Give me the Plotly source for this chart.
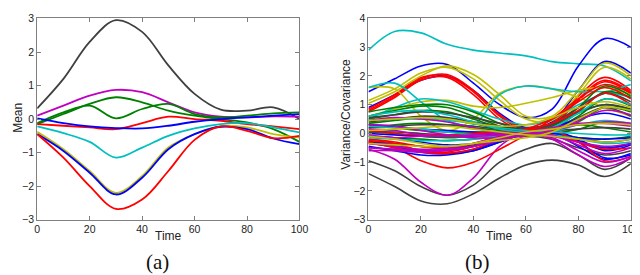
import plotly.graph_objects as go

time = [0, 10, 20, 30, 40, 50, 60, 70, 80, 90, 100]

# ---- panel (a): means ----
mean_series = [
    ("k", [0.32, 1.2, 2.3, 2.95, 2.6, 1.6, 0.75, 0.28, 0.25, 0.35, 0.0]),
    ("m", [0.1, 0.4, 0.7, 0.87, 0.8, 0.5, 0.2, 0.07, 0.05, 0.08, 0.07]),
    ("g", [-0.15, 0.15, 0.45, 0.65, 0.5, 0.25, 0.1, 0.0, -0.1, -0.3, -0.68]),
    ("g", [-0.12, 0.2, 0.4, 0.02, 0.3, 0.45, 0.15, 0.05, 0.1, 0.17, 0.2]),
    ("r", [-0.15, -0.2, -0.25, -0.3, -0.12, 0.07, 0.0, -0.05, -0.15, -0.22, -0.3]),
    ("b", [0.02, -0.12, -0.22, -0.27, -0.28, -0.2, -0.08, 0.0, 0.05, 0.1, 0.15]),
    ("c", [-0.22, -0.42, -0.68, -1.15, -0.85, -0.5, -0.28, -0.15, -0.12, -0.25, -0.4]),
    ("y", [-0.38, -0.9, -1.55, -2.2, -1.7, -0.85, -0.45, -0.22, -0.25, -0.45, -0.55]),
    ("b", [-0.45, -0.95, -1.6, -2.25, -1.75, -0.9, -0.45, -0.23, -0.3, -0.58, -0.75]),
    ("r", [-0.45, -1.15, -2.0, -2.68, -2.4, -1.55, -0.62, -0.22, -0.35, -0.57, -0.5]),
]

# ---- panel (b): variances / covariances ----
cov_series = [
    ("c", [2.9, 3.55, 3.5, 3.1, 2.9, 2.8, 2.7, 2.5, 2.42, 2.35, 1.83]),
    ("b", [1.45, 1.9, 2.35, 2.4, 1.75, 1.0, 0.55, 0.85, 2.35, 3.3, 3.0]),
    ("b", [0.9, 1.35, 1.85, 2.0, 1.5, 0.7, 0.2, 0.4, 1.5, 2.5, 2.1]),
    ("r", [0.85, 1.35, 1.95, 2.0, 1.45, 0.6, 0.1, 0.35, 1.3, 1.95, 1.5]),
    ("r", [0.75, 1.25, 1.85, 1.95, 1.35, 0.5, 0.05, 0.25, 1.15, 1.8, 1.4]),
    ("r", [0.8, 1.3, 1.9, 2.05, 1.5, 0.65, 0.15, 0.3, 1.2, 1.85, 1.45]),
    ("y", [1.05, 1.45, 2.0, 2.35, 2.05, 1.35, 0.6, 0.6, 1.5, 2.45, 2.0]),
    ("y", [1.15, 1.55, 2.1, 2.3, 1.9, 1.15, 0.5, 0.45, 1.35, 2.3, 1.9]),
    ("y", [1.6, 1.55, 0.6, 0.1, 0.5, 1.4, 1.65, 1.55, 1.25, 0.9, 0.6]),
    ("y", [0.6, 0.85, 1.1, 1.15, 0.95, 0.9, 1.05, 1.25, 1.5, 1.6, 1.35]),
    ("c", [1.6, 1.75, 1.1, 0.45, 0.3, 1.35, 1.65, 1.55, 1.45, 1.45, 1.25]),
    ("c", [0.5, 0.9, 1.2, 1.1, 0.8, 0.5, 0.3, 0.5, 1.0, 1.4, 1.7]),
    ("k", [-1.4, -1.85, -2.35, -2.45, -2.1, -1.55, -1.1, -0.93, -1.1, -1.5, -1.05]),
    ("k", [-0.95, -1.3, -1.85, -2.15, -1.8, -1.0, -0.55, -0.35, -0.75, -1.25, -0.85]),
    ("m", [-0.55, -0.9, -1.7, -2.15, -1.55, -0.45, 0.05, 0.0, -0.3, -0.55, -0.35]),
    ("r", [-0.35, -0.5, -0.95, -1.2, -1.0, -0.55, -0.05, 0.5, 1.2, 1.7, 1.4]),
    ("g", [0.75, 0.9, 1.0, 1.0, 0.75, 0.35, 0.05, 0.25, 0.9, 1.65, 1.3]),
    ("g", [0.6, 0.8, 0.95, 0.9, 0.6, 0.25, 0.0, 0.15, 0.75, 1.45, 1.25]),
    ("g", [0.5, 0.65, 0.8, 0.75, 0.5, 0.2, 0.0, 0.1, 0.6, 1.2, 0.95]),
    ("g", [0.35, 0.45, 0.55, 0.5, 0.35, 0.15, 0.05, 0.05, 0.4, 0.9, 0.75]),
    ("g", [0.2, 0.3, 0.35, 0.3, 0.2, 0.1, 0.0, 0.0, 0.15, 0.4, 0.3]),
    ("g", [0.05, 0.0, -0.1, -0.15, -0.1, -0.05, 0.0, -0.05, -0.15, -0.2, -0.1]),
    ("g", [-0.1, -0.15, -0.2, -0.25, -0.2, -0.1, 0.0, 0.15, 0.3, 0.2, 0.05]),
    ("g", [0.3, 0.2, 0.1, 0.05, 0.05, 0.05, 0.05, 0.25, 0.7, 1.0, 0.8]),
    ("k", [0.55, 0.65, 0.75, 0.7, 0.55, 0.35, 0.2, 0.35, 0.9, 1.4, 1.1]),
    ("k", [0.4, 0.5, 0.6, 0.55, 0.4, 0.25, 0.15, 0.3, 0.75, 1.0, 0.85]),
    ("k", [0.2, 0.25, 0.3, 0.3, 0.25, 0.15, 0.1, 0.1, 0.15, 0.2, 0.15]),
    ("k", [-0.3, -0.35, -0.45, -0.5, -0.4, -0.2, 0.0, 0.0, -0.15, -0.3, -0.2]),
    ("k", [-0.5, -0.55, -0.6, -0.55, -0.4, -0.2, -0.1, -0.2, -0.5, -0.75, -0.6]),
    ("k", [0.05, 0.05, 0.0, -0.05, 0.0, 0.05, 0.05, 0.2, 0.55, 0.9, 0.6]),
    ("b", [0.3, 0.25, 0.15, 0.1, 0.05, 0.0, 0.0, -0.05, -0.15, -0.2, -0.15]),
    ("b", [-0.1, -0.15, -0.3, -0.4, -0.35, -0.2, 0.0, 0.0, -0.25, -0.5, -0.35]),
    ("b", [-0.25, -0.4, -0.6, -0.7, -0.55, -0.25, 0.0, 0.1, -0.2, -0.6, -0.4]),
    ("b", [-0.3, -0.45, -0.65, -0.7, -0.6, -0.3, 0.05, 0.0, -0.45, -0.9, -0.7]),
    ("b", [0.0, -0.05, -0.1, -0.1, -0.05, 0.0, 0.05, 0.2, 0.5, 0.7, 0.5]),
    ("b", [-0.45, -0.6, -0.75, -0.75, -0.6, -0.3, 0.0, 0.05, -0.3, -0.85, -0.75]),
    ("r", [-0.25, -0.35, -0.6, -0.65, -0.45, -0.15, 0.15, 0.5, 1.1, 1.6, 1.2]),
    ("r", [-0.3, -0.5, -0.65, -0.7, -0.55, -0.2, 0.1, 0.35, 0.8, 1.4, 1.0]),
    ("r", [0.1, 0.0, -0.05, -0.05, 0.0, 0.05, 0.05, -0.05, -0.3, -0.55, -0.5]),
    ("r", [-0.2, -0.3, -0.45, -0.5, -0.35, -0.1, 0.1, 0.1, -0.3, -0.95, -0.8]),
    ("c", [0.6, 0.75, 0.8, 0.65, 0.4, 0.15, 0.05, 0.2, 0.7, 1.2, 1.0]),
    ("c", [0.25, 0.2, 0.15, 0.05, -0.05, -0.1, -0.05, 0.05, 0.3, 0.45, 0.35]),
    ("c", [-0.15, -0.2, -0.25, -0.25, -0.2, -0.1, 0.0, -0.05, -0.2, -0.35, -0.3]),
    ("c", [0.45, 0.5, 0.5, 0.45, 0.35, 0.2, 0.1, 0.05, 0.0, -0.05, -0.05]),
    ("m", [0.45, 0.55, 0.5, 0.4, 0.2, 0.0, -0.1, 0.1, 0.45, 0.8, 0.65]),
    ("m", [0.3, 0.25, 0.1, -0.05, -0.15, -0.15, -0.05, 0.1, 0.3, 0.4, 0.35]),
    ("m", [-0.6, -0.6, -0.65, -0.6, -0.45, -0.2, 0.0, -0.2, -0.75, -1.15, -0.85]),
    ("m", [-0.5, -0.55, -0.6, -0.55, -0.45, -0.25, -0.05, -0.15, -0.6, -1.0, -0.8]),
    ("m", [-0.05, -0.15, -0.1, -0.1, -0.05, 0.0, 0.0, -0.1, -0.3, -0.45, -0.35]),
    ("m", [0.15, 0.1, -0.05, -0.1, -0.1, -0.05, 0.05, 0.2, 0.35, 0.35, 0.25]),
    ("m", [-0.35, -0.45, -0.55, -0.5, -0.35, -0.1, 0.05, -0.05, -0.4, -0.7, -0.5]),
    ("y", [0.45, 0.5, 0.55, 0.5, 0.35, 0.25, 0.3, 0.55, 0.9, 1.1, 0.9]),
    ("y", [-0.1, -0.2, -0.35, -0.45, -0.35, -0.15, 0.05, 0.15, 0.3, 0.35, 0.3]),
    ("y", [0.1, 0.15, 0.2, 0.25, 0.15, 0.05, -0.05, -0.1, -0.2, -0.3, -0.2]),
    ("y", [-0.35, -0.4, -0.45, -0.45, -0.35, -0.25, -0.15, 0.05, 0.5, 0.9, 0.8]),
]

x_ticks = [0, 20, 40, 60, 80, 100]
mean_ticks = [-3, -2, -1, 0, 1, 2, 3]
cov_ticks = [-3, -2, -1, 0, 1, 2, 3, 4]

colors = {"b": "#0000ff", "g": "#008000", "r": "#ff0000", "c": "#00bfbf",
          "m": "#bf00bf", "y": "#bfbf00", "k": "#404040"}

W, H = 640, 275
fig = go.Figure()

for key, ys in mean_series:
    fig.add_trace(go.Scatter(x=time, y=ys, mode="lines", xaxis="x", yaxis="y",
                             line=dict(color=colors[key], width=1.8, shape="spline", smoothing=1.0),
                             hoverinfo="skip", showlegend=False))
for key, ys in cov_series:
    fig.add_trace(go.Scatter(x=time, y=ys, mode="lines", xaxis="x2", yaxis="y2",
                             line=dict(color=colors[key], width=1.6, shape="spline", smoothing=1.0),
                             hoverinfo="skip", showlegend=False))

ydom = [1 - 215 / H, 1 - 4.7 / H]
axis_common = dict(showline=True, linecolor="#808080", linewidth=1, mirror="ticks",
                   ticks="inside", ticklen=4, tickcolor="#808080", showgrid=False,
                   zeroline=False, ticklabeloverflow="allow",
                   tickfont=dict(family="Liberation Sans, Arial", size=10.5, color="#222"))

fig.update_layout(
    width=W, height=H, margin=dict(l=0, r=0, t=0, b=0),
    paper_bgcolor="white", plot_bgcolor="white",
    xaxis=dict(domain=[26.7 / W, 294 / W], range=[0, 100], tickvals=x_ticks, anchor="y", **axis_common),
    yaxis=dict(domain=ydom, range=[-3, 3], tickvals=mean_ticks, anchor="x", **axis_common),
    xaxis2=dict(domain=[364.3 / W, 631.7 / W], range=[0, 100], tickvals=x_ticks, anchor="y2", **axis_common),
    yaxis2=dict(domain=ydom, range=[-3, 4], tickvals=cov_ticks, anchor="x2", **axis_common),
)

lab = dict(family="Liberation Sans, Arial", size=12, color="#222")
ann = [
    dict(text="Time", x=160 / W, y=1 - 232.5 / H, font=lab),
    dict(text="Time", x=498 / W, y=1 - 232.5 / H, font=lab),
    dict(text="Mean", x=7 / W, y=1 - 108.7 / H, textangle=-90, font=lab),
    dict(text="Variance/Covariance", x=341.7 / W, y=1 - 105 / H, textangle=-90, font=lab),
    dict(text="(a)", x=149.7 / W, y=1 - 259 / H, font=dict(family="Liberation Serif, Times New Roman, serif", size=21, color="#111")),
    dict(text="(b)", x=475.5 / W, y=1 - 259 / H, font=dict(family="Liberation Serif, Times New Roman, serif", size=21, color="#111")),
]
for a in ann:
    fig.add_annotation(xref="paper", yref="paper", showarrow=False,
                       xanchor="center", yanchor="middle", **a)

fig.write_html("out.html")
